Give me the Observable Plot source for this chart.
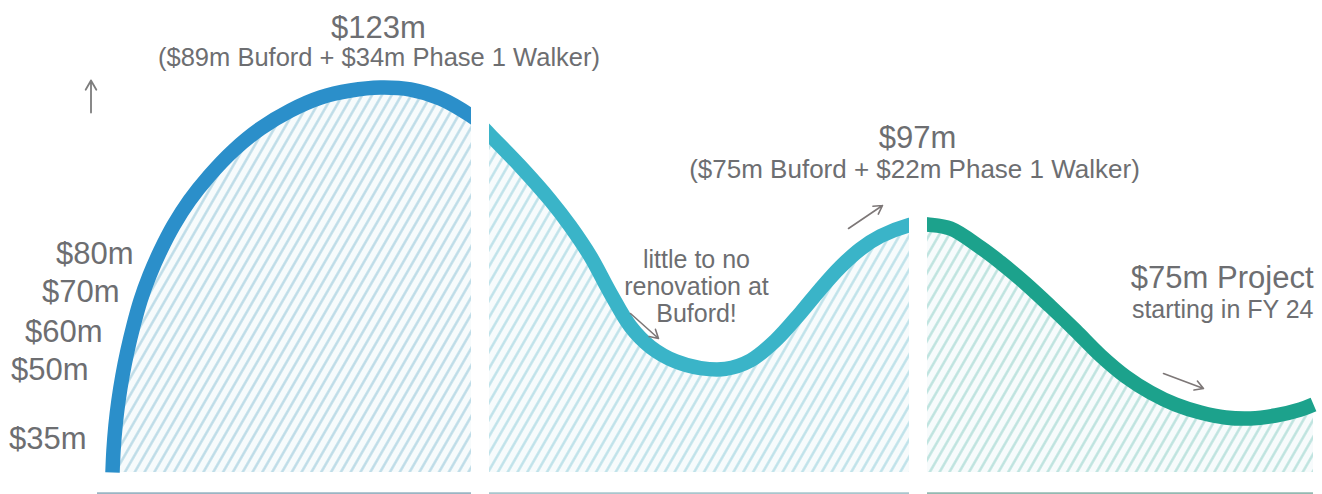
<!DOCTYPE html>
<html>
<head>
<meta charset="utf-8">
<script src="https://cdn.jsdelivr.net/npm/d3@7"></script>
<script src="https://cdn.jsdelivr.net/npm/@observablehq/plot@0.6"></script>
<style>
  html, body { margin: 0; padding: 0; background: #fff; overflow: hidden; }
  #chart svg { display: block; }
</style>
</head>
<body>
<div id="chart"></div>
<script>
// ---- Data (time index t, spending in $m) ----
const seg1T = [11.2, 11.3, 11.5, 11.8, 12.2, 12.7, 13.3, 14.0, 14.9, 16.0, 17.3, 18.9, 20.9, 23.3, 26.0, 29.0, 32.0, 35.0, 38.0, 41.0, 44.0, 47.0, 48.2];
const seg1V = [27, 32.5, 38.75, 45, 51.25, 57.5, 63.75, 70, 76.25, 82.5, 88.75, 95, 101.25, 107.5, 113, 117.5, 120.75, 122.5, 123.25, 122.75, 120.5, 116.25, 114];
const seg2T = [47.8, 49.0, 52.0, 55.0, 57.0, 59.0, 61.0, 63.0, 65.0, 67.5, 70.0, 72.5, 75.0, 77.5, 80.0, 82.0, 84.0, 86.0, 88.0, 90.9, 92.0];
const seg2V = [114.35, 111.25, 103.5, 95, 88.5, 81, 71.8, 63.5, 58.4, 54.8, 53.1, 52.9, 55, 60, 66.9, 72.9, 78.4, 82.9, 86.1, 88.9, 89.4];
const seg3T = [91.6, 92.7, 95.0, 98.0, 100.0, 102.5, 105.0, 107.5, 110.0, 112.5, 115.0, 117.5, 120.0, 122.5, 125.0, 127.5, 130.0, 131.3];
const seg3V = [89.2, 89, 88, 83.25, 79.5, 74.25, 68.5, 62.5, 56.25, 51, 47, 44, 42, 40.75, 40.5, 41.25, 42.75, 44];
const baseline = 27;

// gaps between phases
const gapStart = [47.1, 90.9];
const gapEnd   = [48.9, 92.7];

// bottom rules per phase
const ruleStart = [9.7, 48.9, 92.7];
const ruleEnd   = [47.1, 90.9, 131.3];

// y tick labels (placed along the curve)
const yTickLabels = ["$80m", "$70m", "$60m", "$50m", "$35m"];
const yTickPos    = [81.5, 72, 62, 52.5, 35.25];
const yTickX      = [13.3, 11.9, 10.2, 8.8, 8.6];

// annotations
const annText = ["$123m", "($89m Buford + $34m Phase 1 Walker)", "$97m", "($75m Buford + $22m Phase 1 Walker)",
                 "little to no\nrenovation at\nBuford!", "$75m Project", "starting in FY 24"];
const annX    = [37.8, 37.85, 91.7, 91.4, 69.6, 131.3, 131.3];
const annY    = [135.75, 128.75, 108.25, 100.75, 64.75, 73.25, 65.75];
const annSize = [31, 25.5, 31, 26, 25, 31, 25];
const annAnchor = ["middle", "middle", "middle", "middle", "middle", "end", "end"];

// small pointer arrows
const arrX1 = [63.0, 84.8, 116.3];
const arrY1 = [66.75, 88, 51.75];
const arrX2 = [65.8, 88.2, 120.3];
const arrY2 = [60.5, 93.75, 48];

// y-axis arrow
const axisArrow = {x: 9.05, y1: 117, y2: 125};

const colors   = ["#2b8fca", "#3ab4c8", "#1ca28c"];
const hatchCol = ["#bbdbe7", "#bde1e9", "#bce2de"];
const ruleCol  = ["#9ab5c3", "#a8c6cd", "#93b9b1"];

const segs = [[seg1T, seg1V], [seg2T, seg2V], [seg3T, seg3V]].map(([T, V], i) =>
  T.map((t, j) => ({t, v: V[j], seg: i})));

const gaps = gapStart.map((s, i) => ({x1: s, x2: gapEnd[i]}));
const rules = ruleStart.map((s, i) => ({x1: s, x2: ruleEnd[i], seg: i}));
const ticks = yTickLabels.map((l, i) => ({label: l, v: yTickPos[i], t: yTickX[i]}));
const anns = annText.map((s, i) => ({text: s, t: annX[i], v: annY[i], size: annSize[i], anchor: annAnchor[i]}));
const arrows = arrX1.map((x, i) => ({x1: x, y1: arrY1[i], x2: arrX2[i], y2: arrY2[i]}));

const textColor = "#6d6e71";
const font = "'Liberation Sans', Arial, Helvetica, sans-serif";

const marks = [];
segs.forEach((d, i) => {
  marks.push(Plot.areaY(d, {x: "t", y1: baseline, y2: "v", curve: "catmull-rom", fill: "#f7fbfc"}));
  marks.push(Plot.areaY(d, {x: "t", y1: baseline, y2: "v", curve: "catmull-rom", fill: `url(#hatch${i})`}));
});
segs.forEach((d, i) => {
  marks.push(Plot.line(d, {x: "t", y: "v", curve: "catmull-rom", stroke: colors[i], strokeWidth: 14.5, strokeLinecap: "butt"}));
});
marks.push(Plot.rect(gaps, {x1: "x1", x2: "x2", y1: 22.5, y2: 145, fill: "white"}));
rules.forEach((r, i) => {
  marks.push(Plot.ruleY([r], {x1: "x1", x2: "x2", y: 21.75, stroke: ruleCol[i], strokeWidth: 2.5}));
});
marks.push(Plot.text(ticks, {x: "t", y: "v", text: "label", textAnchor: "end", lineAnchor: "middle", fontSize: 31, fill: textColor}));
anns.forEach(a => {
  marks.push(Plot.text([a], {x: "t", y: "v", text: "text", textAnchor: a.anchor, lineAnchor: "bottom", fontSize: a.size, lineHeight: 1.08, fill: textColor}));
});
marks.push(Plot.arrow(arrows, {x1: "x1", y1: "y1", x2: "x2", y2: "y2", stroke: "#7d7777", strokeWidth: 1.6, headLength: 9}));
marks.push(Plot.arrow([axisArrow], {x1: "x", x2: "x", y1: "y1", y2: "y2", stroke: "#7d7d7d", strokeWidth: 1.8, headLength: 12}));

const svg = Plot.plot({
  width: 1322,
  height: 494,
  margin: 0,
  x: {domain: [0, 132.2], axis: null},
  y: {domain: [21.5, 145], axis: null},
  style: {background: "white", fontFamily: font},
  marks
});

const defs = d3.select(svg).insert("defs", ":first-child");
hatchCol.forEach((c, i) => {
  const p = defs.append("pattern")
    .attr("id", `hatch${i}`)
    .attr("patternUnits", "userSpaceOnUse")
    .attr("width", 8.5).attr("height", 8.5)
    .attr("patternTransform", "rotate(30)");
  p.append("line").attr("x1", 4.25).attr("y1", 0).attr("x2", 4.25).attr("y2", 8.5)
    .attr("stroke", c).attr("stroke-width", 2.4);
});

document.getElementById("chart").appendChild(svg);
</script>
</body>
</html>
